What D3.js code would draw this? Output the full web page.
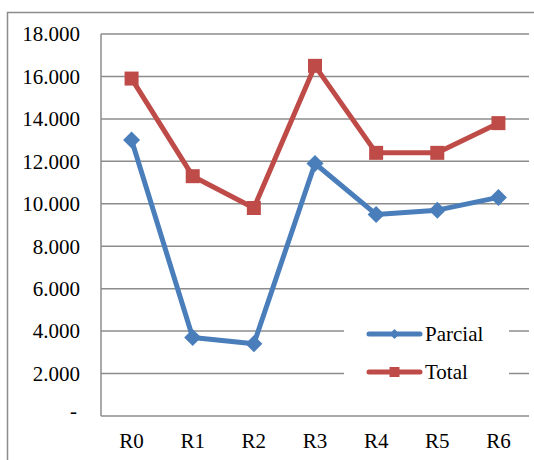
<!DOCTYPE html>
<html>
<head>
<meta charset="utf-8">
<script src="https://cdn.jsdelivr.net/npm/d3@7"></script>
</head>
<body style="margin:0">
<svg id="chart" width="534" height="460"></svg>
<script>
// Rounds R0..R6 with partial and total values
const categories = ["R0", "R1", "R2", "R3", "R4", "R5", "R6"];
const parcial = [13.0, 3.7, 3.4, 11.9, 9.5, 9.7, 10.3];
const total = [15.9, 11.3, 9.8, 16.5, 12.4, 12.4, 13.8];
const yTicks = [0, 2, 4, 6, 8, 10, 12, 14, 16, 18];
const seriesNames = ["Parcial", "Total"];

const svg = d3.select("#chart");
const gridColor = "#8c8c8c";
const blue = "#4a7ebb";
const red = "#be4b48";
const fontSize = 21;
const fontFamily = "Liberation Serif";

const plot = { left: 101, right: 529, top: 34, bottom: 416 };

// Outer frame (only top and left edges fall inside the view)
svg.append("path")
  .attr("d", `M7.5,460 L7.5,12.5 L534,12.5`)
  .attr("fill", "none").attr("stroke", gridColor).attr("stroke-width", 1.5);

const x = d3.scalePoint().domain(categories)
  .range([plot.left, plot.right]).padding(0.5);
const y = d3.scaleLinear().domain([0, 18]).range([plot.bottom, plot.top]);

const fmtLabel = v => v === 0 ? "-" : (v.toFixed(0) + ".000");

// Horizontal gridlines
svg.selectAll("line.grid").data(yTicks.filter(d => d > 0)).join("line")
  .attr("class", "grid")
  .attr("x1", plot.left).attr("x2", plot.right)
  .attr("y1", d => y(d)).attr("y2", d => y(d))
  .attr("stroke", gridColor).attr("stroke-width", 1.5);

// Y tick labels, right-aligned left of the plot
svg.selectAll("text.ylab").data(yTicks).join("text")
  .attr("class", "ylab")
  .attr("x", d => d === 0 ? 77 : 80)
  .attr("y", d => y(d))
  .attr("dy", d => d === 0 ? "0.1em" : "0.35em")
  .attr("text-anchor", "end")
  .attr("font-size", fontSize)
  .style("font-family", fontFamily)
  .text(fmtLabel);

// X category labels
svg.selectAll("text.xlab").data(categories).join("text")
  .attr("class", "xlab")
  .attr("x", d => x(d))
  .attr("y", plot.bottom + 17)
  .attr("dy", "0.71em")
  .attr("text-anchor", "middle")
  .attr("font-size", fontSize)
  .style("font-family", fontFamily)
  .text(d => d);

// Axis lines
svg.append("line").attr("x1", plot.left).attr("x2", plot.left)
  .attr("y1", plot.top).attr("y2", plot.bottom)
  .attr("stroke", gridColor).attr("stroke-width", 1.5);
svg.append("line").attr("x1", plot.left).attr("x2", plot.right)
  .attr("y1", plot.bottom).attr("y2", plot.bottom)
  .attr("stroke", gridColor).attr("stroke-width", 1.5);

const line = d3.line().x((d, i) => x(categories[i])).y(d => y(d));

// Marker shapes centred on the origin
const diamondPath = r => `M0,${-r}L${r},0L0,${r}L${-r},0Z`;
const squarePath = h => `M${-h},${-h}H${h}V${h}H${-h}Z`;

function drawSeries(values, color, shape) {
  svg.append("path").datum(values)
    .attr("d", line).attr("fill", "none")
    .attr("stroke", color).attr("stroke-width", 5)
    .attr("stroke-linejoin", "round");
  values.forEach((d, i) => {
    svg.append("path")
      .attr("transform", `translate(${x(categories[i])},${y(d)})`)
      .attr("d", shape)
      .attr("fill", color);
  });
}

drawSeries(parcial, blue, diamondPath(8.5));
drawSeries(total, red, squarePath(7));

// Legend with white background over the gridlines
svg.append("rect").attr("x", 344).attr("y", 312).attr("width", 165).attr("height", 82)
  .attr("fill", "#fff");
const legendItems = [
  { name: seriesNames[0], color: blue, shape: diamondPath(5), yPos: 334 },
  { name: seriesNames[1], color: red, shape: squarePath(5), yPos: 372 }
];
legendItems.forEach(it => {
  svg.append("line").attr("x1", 369).attr("x2", 420)
    .attr("y1", it.yPos).attr("y2", it.yPos)
    .attr("stroke", it.color).attr("stroke-width", 5).attr("stroke-linecap", "round");
  svg.append("path").attr("d", it.shape)
    .attr("transform", `translate(394.5,${it.yPos})`).attr("fill", it.color);
  svg.append("text").attr("x", 425).attr("y", it.yPos).attr("dy", "0.35em")
    .attr("font-size", fontSize)
    .style("font-family", fontFamily)
    .text(it.name);
});
</script>
</body>
</html>
